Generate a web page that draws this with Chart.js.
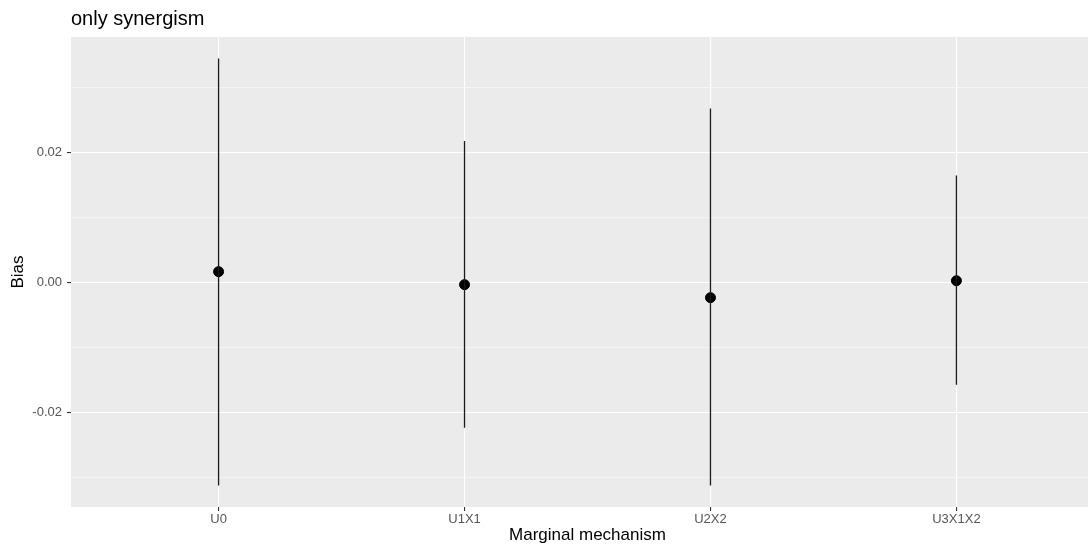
<!DOCTYPE html>
<html lang="en">
  <head>
    <meta charset="UTF-8" />
    <title>only synergism</title>
    <style>
      html, body { margin: 0; padding: 0; background: #ffffff; overflow: hidden; }
      /* the original panel runs past the right edge of the picture */
      #wrap { width: 1104px; height: 549px; position: relative; }
    </style>
  </head>
  <body>
    <div id="wrap"><canvas id="biasChart"></canvas></div>

    <script src="https://cdn.jsdelivr.net/npm/chart.js"></script>
    <script>
      var categories = ["U0", "U1X1", "U2X2", "U3X1X2"];
      var biasMean = [0.0017, -0.0003, -0.0023, 0.0003];
      var biasLower = [-0.0312, -0.0223, -0.0312, -0.0157];
      var biasUpper = [0.0345, 0.0218, 0.0268, 0.0165];
      var yTicks = [-0.03, -0.02, -0.01, 0, 0.01, 0.02, 0.03];
      var yTickLabels = { "-0.02": "-0.02", "0": "0.00", "0.02": "0.02" };

      var FONT = "'Liberation Sans', Arial, sans-serif";

      // grey ggplot panel + title
      var panelPlugin = {
        id: "panel",
        beforeDraw: function (chart) {
          var a = chart.chartArea;
          var ctx = chart.ctx;
          ctx.save();
          ctx.fillStyle = "#ebebeb";
          ctx.fillRect(a.left, a.top, a.right - a.left, a.bottom - a.top);
          ctx.restore();
        },
        afterDraw: function (chart) {
          var ctx = chart.ctx;
          ctx.save();
          ctx.fillStyle = "#000000";
          ctx.font = "20px " + FONT;
          ctx.textBaseline = "alphabetic";
          ctx.textAlign = "left";
          ctx.fillText("only synergism", chart.chartArea.left, 25);
          ctx.restore();
        },
      };

      var datasets = [];
      categories.forEach(function (c, i) {
        datasets.push({
          type: "line",
          data: [
            { x: i, y: biasLower[i] },
            { x: i, y: biasUpper[i] },
          ],
          borderColor: "#1a1a1a",
          borderWidth: 1.3,
          pointRadius: 0,
          fill: false,
        });
      });
      datasets.push({
        type: "scatter",
        data: biasMean.map(function (v, i) {
          return { x: i, y: v };
        }),
        backgroundColor: "#000000",
        borderColor: "#000000",
        pointRadius: 5,
        pointHoverRadius: 5,
      });

      var isMajor = function (v) {
        return Math.abs(Math.round(v * 100)) % 2 === 0;
      };

      new Chart(document.getElementById("biasChart"), {
        data: { datasets: datasets },
        plugins: [panelPlugin],
        options: {
          responsive: true,
          maintainAspectRatio: false,
          animation: false,
          layout: {
            autoPadding: false,
            padding: { top: 37, right: 0, left: 0, bottom: 0 },
          },
          plugins: {
            legend: { display: false },
            tooltip: { enabled: false },
          },
          scales: {
            x: {
              type: "linear",
              min: -0.6,
              max: 3.6,
              afterBuildTicks: function (axis) {
                axis.ticks = categories.map(function (c, i) {
                  return { value: i };
                });
              },
              afterFit: function (axis) {
                axis.height = 42;
              },
              ticks: {
                autoSkip: false,
                maxRotation: 0,
                padding: 1,
                color: "#555555",
                font: { family: FONT, size: 13 },
                callback: function (v) {
                  return categories[v];
                },
              },
              grid: {
                color: "#ffffff",
                lineWidth: 1.1,
                tickColor: "#333333",
                tickLength: 4,
              },
              border: { display: false },
              title: {
                display: true,
                text: "Marginal mechanism",
                color: "#000000",
                font: { family: FONT, size: 17 },
                padding: { top: 0, bottom: 3 },
              },
            },
            y: {
              type: "linear",
              min: -0.0345,
              max: 0.0378,
              afterBuildTicks: function (axis) {
                axis.ticks = yTicks.map(function (v) {
                  return { value: v };
                });
              },
              afterFit: function (axis) {
                axis.width = 71;
              },
              ticks: {
                padding: 5,
                color: "#555555",
                font: { family: FONT, size: 13 },
                callback: function (v) {
                  var key = String(Math.round(v * 100) / 100);
                  return yTickLabels[key] || "";
                },
              },
              grid: {
                color: "#ffffff",
                lineWidth: function (ctx) {
                  return isMajor(ctx.tick.value) ? 1.1 : 0.5;
                },
                tickColor: function (ctx) {
                  return isMajor(ctx.tick.value) ? "#333333" : "rgba(0,0,0,0)";
                },
                tickLength: 4,
              },
              border: { display: false },
              title: {
                display: true,
                text: "Bias",
                color: "#000000",
                font: { family: FONT, size: 17 },
                padding: { top: 8, bottom: 0 },
              },
            },
          },
        },
      });
    </script>
  </body>
</html>
